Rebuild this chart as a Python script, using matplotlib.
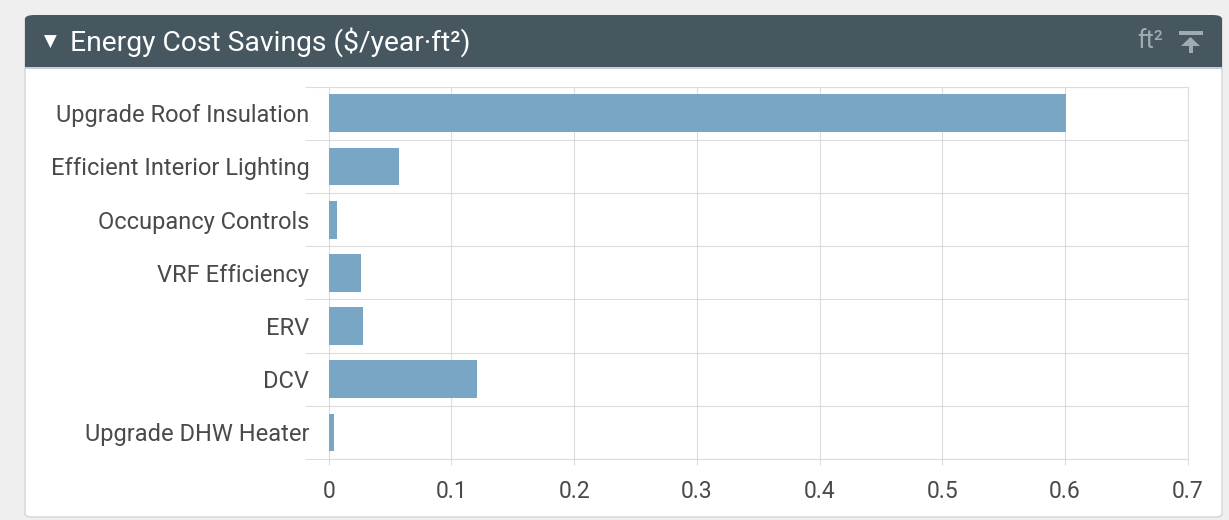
import matplotlib
matplotlib.use('Agg')
import matplotlib.pyplot as plt
from matplotlib.patches import FancyBboxPatch, Rectangle, Polygon
import numpy as np

plt.rcParams['font.family'] = ['Roboto', 'DejaVu Sans']

# data
measures = ['Upgrade Roof Insulation', 'Efficient Interior Lighting', 'Occupancy Controls',
            'VRF Efficiency', 'ERV', 'DCV', 'Upgrade DHW Heater']
savings = [0.601, 0.057, 0.0068, 0.026, 0.028, 0.121, 0.0043]
x_ticks = [0, 0.1, 0.2, 0.3, 0.4, 0.5, 0.6, 0.7]

W, H = 1229, 520
fig = plt.figure(figsize=(W / 100, H / 100), dpi=100)
fig.patch.set_facecolor('#efefef')

def fx(px):
    return px / W

def fy(py):
    return 1 - py / H

# panel body
body = FancyBboxPatch((fx(25), fy(517)), fx(1222) - fx(25), fy(16) - fy(517),
                      boxstyle="round,pad=0,rounding_size=0.006",
                      transform=fig.transFigure, facecolor='white',
                      edgecolor='#d4d4d4', linewidth=1.0, zorder=0)
fig.patches.append(body)

# header bar
header = FancyBboxPatch((fx(25), fy(67)), fx(1222) - fx(25), fy(15) - fy(67),
                        boxstyle="round,pad=0,rounding_size=0.008",
                        transform=fig.transFigure, facecolor='#46575f',
                        edgecolor='none', zorder=1)
fig.patches.append(header)
fig.patches.append(Rectangle((fx(25), fy(67)), fx(1222) - fx(25), fy(50) - fy(67),
                             transform=fig.transFigure, facecolor='#46575f',
                             edgecolor='none', zorder=1))
fig.patches.append(Rectangle((fx(25), fy(69)), fx(1222) - fx(25), fy(67) - fy(69),
                             transform=fig.transFigure, facecolor='#c9d0d3',
                             edgecolor='none', zorder=1))

fig.text(fx(44), fy(42), '▼', color='white', fontsize=12, va='center', ha='left')
fig.text(fx(70), fy(42), 'Energy Cost Savings ($/year·ft²)', color='white',
         fontsize=20.3, va='center', ha='left')
fig.text(fx(1163), fy(41), 'ft²', color='#a0abb0', fontsize=18, va='center', ha='right')

# pin icon
icon_c = '#a0abb0'
fig.patches.append(Rectangle((fx(1179), fy(35)), fx(1203) - fx(1179), fy(31) - fy(35),
                             transform=fig.transFigure, facecolor=icon_c,
                             edgecolor='none', zorder=2))
fig.patches.append(Polygon([(fx(1181), fy(46)), (fx(1200), fy(46)), (fx(1190.5), fy(37))],
                           closed=True, transform=fig.transFigure, facecolor=icon_c,
                           edgecolor='none', zorder=2))
fig.patches.append(Rectangle((fx(1189), fy(53)), fx(1192.5) - fx(1189), fy(45) - fy(53),
                             transform=fig.transFigure, facecolor=icon_c,
                             edgecolor='none', zorder=2))

# chart
ax = fig.add_axes([fx(328.7), fy(459), fx(1187.7) - fx(328.7), fy(86.7) - fy(459)])
ax.set_zorder(5)
ax.set_facecolor('white')
y = np.arange(len(measures))
ax.barh(y, savings, height=0.71, color='#78a6c4', zorder=3)
ax.set_ylim(len(measures) - 0.5, -0.5)
ax.set_xlim(0, 0.7)

ax.set_yticks(y)
ax.set_yticklabels(measures)
ax.set_yticks(np.arange(len(measures) + 1) - 0.5, minor=True)
ax.tick_params(axis='y', which='major', length=0, pad=14, labelsize=17, labelcolor='#4a4a4a')
ax.tick_params(axis='y', which='minor', length=17, width=0.8, color='#dcdcdc')

ax.set_xticks(x_ticks)
ax.set_xticklabels(['0' if v == 0 else f'{v:g}' for v in x_ticks])
ax.tick_params(axis='x', length=4.5, width=0.8, color='#dcdcdc', pad=10.5,
               labelsize=16.5, labelcolor='#4a4a4a')

ax.grid(axis='x', color='#dcdcdc', linewidth=0.8, zorder=0)
ax.grid(axis='y', which='minor', color='#dcdcdc', linewidth=0.8, zorder=0)
for s in ax.spines.values():
    s.set_color('#dcdcdc')
    s.set_linewidth(0.8)
ax.set_axisbelow(True)

fig.savefig('out.png', dpi=100, facecolor=fig.get_facecolor())
